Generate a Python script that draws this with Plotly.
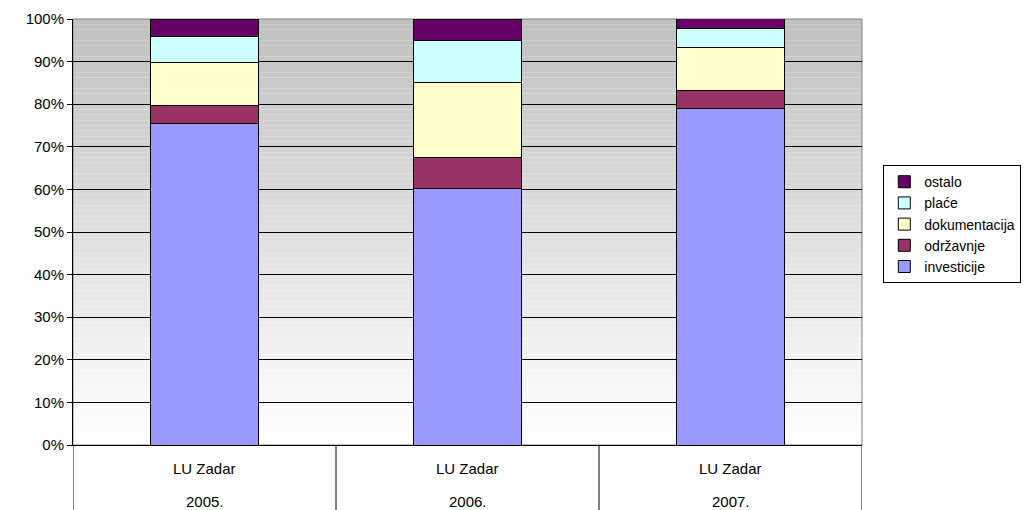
import plotly.graph_objects as go

# category labels (two levels) and series values in percent
places = ['LU Zadar', 'LU Zadar', 'LU Zadar']
years = ['2005.', '2006.', '2007.']
investicije = [75.5, 60.2, 79.0]
odrzavnje = [4.1, 7.2, 4.3]
dokumentacija = [10.1, 17.8, 10.0]
place = [6.1, 9.7, 4.5]
ostalo = [4.2, 5.1, 2.4]

series = [
    ('investicije', investicije, '#9999FF'),
    ('održavnje', odrzavnje, '#993366'),
    ('dokumentacija', dokumentacija, '#FFFFCC'),
    ('plaće', place, '#CCFFFF'),
    ('ostalo', ostalo, '#660066'),
]

FONT = 'Liberation Sans, Arial, sans-serif'
xpos = list(range(len(years)))

fig = go.Figure()
for name, vals, color in series:
    fig.add_trace(go.Bar(
        x=xpos, y=vals, name=name,
        marker=dict(color=color, line=dict(color='black', width=1)),
        width=0.41
    ))

# gray-to-white gradient behind the plot area
shapes = []
n = 80
for i in range(n):
    t = (i + 0.5) / n
    c = int(round(255 - (255 - 192) * t))
    shapes.append(dict(
        type='rect', xref='paper', yref='paper',
        x0=0, x1=1, y0=i / n, y1=(i + 1) / n,
        fillcolor=f'rgb({c},{c},{c})', line=dict(width=0), layer='below'
    ))
shapes.append(dict(type='rect', xref='paper', yref='paper', x0=0, x1=1, y0=0, y1=1,
                   line=dict(color='#808080', width=1), layer='below'))

# category dividers below the axis
for b in [-0.5, 0.5, 1.5, 2.5]:
    shapes.append(dict(type='line', xref='x', yref='paper', x0=b, x1=b,
                       y0=0, y1=-0.17, line=dict(color='black', width=1)))

annotations = []
for i, (p, yr) in enumerate(zip(places, years)):
    annotations.append(dict(x=i, y=0, xref='x', yref='paper', text=p, showarrow=False,
                            yshift=-23, yanchor='middle', font=dict(size=15, color='black')))
    annotations.append(dict(x=i, y=0, xref='x', yref='paper', text=yr, showarrow=False,
                            yshift=-56, yanchor='middle', font=dict(size=15, color='black')))

# the page body adds an 8px offset, so margins are shifted to compensate
fig.update_layout(
    barmode='stack',
    width=1032, height=510,
    margin=dict(l=65, r=178, t=11, b=73, autoexpand=False),
    font=dict(family=FONT, size=15, color='black'),
    plot_bgcolor='rgba(0,0,0,0)',
    paper_bgcolor='white',
    shapes=shapes,
    annotations=annotations,
    xaxis=dict(range=[-0.5, 2.5], showticklabels=False, showgrid=False,
               showline=True, linecolor='black', linewidth=1, ticks='', zeroline=False,
               automargin=False),
    yaxis=dict(range=[0, 100], dtick=10, ticksuffix='%', showgrid=True,
               gridcolor='black', gridwidth=1, showline=True, linecolor='black',
               linewidth=1, ticks='outside', ticklen=5, tickcolor='black',
               zeroline=False, tickfont=dict(size=15), automargin=False),
    legend=dict(x=1.027, xanchor='left', y=0.657, yanchor='top',
                traceorder='reversed', bgcolor='white', bordercolor='black',
                borderwidth=1, font=dict(size=14), itemwidth=30),
    showlegend=True,
)

fig.write_html('out.html')
